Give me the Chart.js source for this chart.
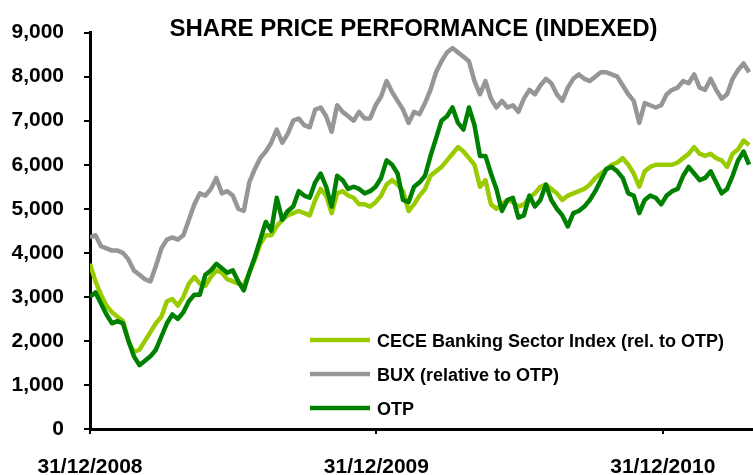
<!DOCTYPE html>
<html><head><meta charset="utf-8">
<script src="https://cdn.jsdelivr.net/npm/chart.js@4/dist/chart.umd.min.js"></script>
<style>html,body{margin:0;padding:0;background:#fff;}</style>
</head><body>
<canvas id="c" width="753" height="475"></canvas>
<script>
// ---- data ----
const tickDays = [0, 365, 730];
const tickLabels = ['31/12/2008', '31/12/2009', '31/12/2010'];
const seriesNames = ['CECE Banking Sector Index (rel. to OTP)', 'BUX (relative to OTP)', 'OTP'];
const dayStep = 7; // weekly observations starting 31/12/2008

const cece = [
  3750,3350,3050,2800,2650,2550,2450,2000,1750,1800,
  2000,2200,2400,2550,2900,2950,2800,3000,3300,3450,
  3300,3250,3450,3600,3550,3400,3350,3300,3250,3550,
  3850,4200,4400,4400,4600,4750,4850,4900,4950,4900,
  4850,5200,5450,5300,4900,5350,5400,5300,5250,5100,
  5100,5050,5150,5300,5550,5650,5550,5400,4950,5100,
  5300,5450,5750,5850,5950,6100,6250,6400,6300,6150,
  6000,5500,5650,5100,5000,5100,5200,5150,5050,5100,
  5250,5350,5500,5550,5450,5350,5200,5300,5350,5400,
  5450,5550,5700,5800,5900,6000,6050,6150,6000,5800,
  5500,5850,5950,6000,6000,6000,6000,6050,6150,6250,
  6400,6250,6200,6250,6150,6100,5950,6250,6350,6550,
  6450
];
const bux = [
  4350,4400,4150,4100,4050,4050,4000,3850,3600,3500,
  3400,3350,3700,4100,4300,4350,4300,4400,4750,5100,
  5350,5300,5450,5700,5350,5400,5300,5000,4950,5600,
  5900,6150,6300,6500,6800,6500,6700,7000,7050,6900,
  6850,7250,7300,7100,6750,7350,7200,7100,7000,7200,
  7050,7050,7350,7550,7900,7650,7450,7250,6950,7200,
  7150,7400,7700,8100,8350,8550,8650,8550,8450,8350,
  7900,7600,7900,7500,7300,7450,7300,7350,7200,7500,
  7700,7600,7800,7950,7850,7600,7450,7750,7950,8050,
  7950,7900,8000,8100,8100,8050,8000,7800,7600,7450,
  6950,7400,7350,7300,7350,7600,7700,7750,7900,7850,
  8050,7750,7700,7950,7700,7500,7600,7950,8150,8300,
  8100
];
const otp = [
  3000,3100,2850,2600,2400,2450,2400,2000,1650,1450,
  1550,1650,1800,2100,2400,2600,2500,2650,2900,3050,
  3050,3500,3600,3750,3650,3550,3600,3350,3150,3550,
  3900,4300,4700,4500,5250,4750,4950,5050,5400,5300,
  5250,5600,5800,5500,5050,5750,5650,5450,5500,5450,
  5350,5400,5500,5700,6100,6000,5800,5200,5150,5500,
  5600,5750,6200,6600,7000,7100,7300,6950,6800,7300,
  6900,6200,6200,5800,5450,4950,5200,5250,4800,4850,
  5300,5050,5200,5550,5200,5000,4850,4600,4900,4950,
  5050,5200,5400,5650,5900,5950,5850,5700,5350,5300,
  4900,5200,5300,5250,5100,5300,5400,5450,5750,5950,
  5800,5650,5700,5850,5600,5350,5450,5750,6100,6300,
  6000
];
const seriesColors = ['#99CC00', '#969696', '#008000'];

// ---- build ----
const toPoints = arr => arr.map((v, i) => ({ x: i * dayStep, y: v }));
const FONT = '"Liberation Sans", Arial, sans-serif';

const insideLegend = {
  id: 'insideLegend',
  afterLayout(chart) {
    // nudge the title block slightly left, as in the original
    if (chart.titleBlock) chart.titleBlock.left -= 16;
  },
  afterDatasetsDraw(chart) {
    const ctx = chart.ctx, a = chart.chartArea;
    const x0 = a.left + 220;
    const rows = [a.bottom - 89, a.bottom - 55, a.bottom - 21];
    ctx.save();
    ctx.font = 'bold 18px ' + FONT;
    ctx.textBaseline = 'middle';
    ctx.textAlign = 'left';
    chart.data.datasets.forEach((ds, i) => {
      const y = rows[i];
      ctx.strokeStyle = ds.borderColor;
      ctx.lineWidth = 4.5;
      ctx.beginPath(); ctx.moveTo(x0, y); ctx.lineTo(x0 + 60, y); ctx.stroke();
      ctx.fillStyle = '#000';
      ctx.fillText(ds.label, x0 + 67, y + 2);
    });
    ctx.restore();
  }
};

new Chart(document.getElementById('c'), {
  type: 'line',
  data: {
    datasets: [
      { label: seriesNames[0], data: toPoints(cece), borderColor: seriesColors[0], order: 3 },
      { label: seriesNames[1], data: toPoints(bux), borderColor: seriesColors[1], order: 2 },
      { label: seriesNames[2], data: toPoints(otp), borderColor: seriesColors[2], order: 1 }
    ]
  },
  options: {
    responsive: false,
    animation: false,
    devicePixelRatio: 1,
    layout: { padding: { left: 0, right: 0, top: 0, bottom: 0 } },
    elements: {
      line: { borderWidth: 4.5, tension: 0, borderJoinStyle: 'round', fill: false },
      point: { radius: 0, hoverRadius: 0 }
    },
    plugins: {
      legend: { display: false },
      tooltip: { enabled: false },
      title: {
        display: true,
        text: 'SHARE PRICE PERFORMANCE (INDEXED)',
        fullSize: false,
        color: '#000',
        font: { family: FONT, size: 24, weight: 'bold', lineHeight: 1.2 },
        padding: { top: 10.6, bottom: -11.4 }
      }
    },
    scales: {
      x: {
        type: 'linear',
        min: 0,
        max: 845,
        afterBuildTicks: s => { s.ticks = tickDays.map(v => ({ value: v })); },
        afterFit: s => { s.height = 46; },
        ticks: {
          autoSkip: false,
          maxRotation: 0,
          color: '#000',
          padding: 23,
          font: { family: FONT, size: 21, weight: 'bold', lineHeight: 1 },
          callback: (v) => tickLabels[tickDays.indexOf(v)]
        },
        grid: { drawOnChartArea: false, color: '#000', lineWidth: 2, tickLength: 5 },
        border: { color: '#000', width: 3 }
      },
      y: {
        min: 0,
        max: 9000,
        afterFit: s => { s.width = 90; },
        ticks: {
          stepSize: 1000,
          color: '#000',
          padding: 20,
          font: { family: FONT, size: 21, weight: 'bold' },
          callback: v => v.toLocaleString('en-US')
        },
        grid: { drawOnChartArea: false, color: '#000', lineWidth: 2, tickLength: 6 },
        border: { color: '#000', width: 3 }
      }
    }
  },
  plugins: [insideLegend]
});
</script>
</body></html>
